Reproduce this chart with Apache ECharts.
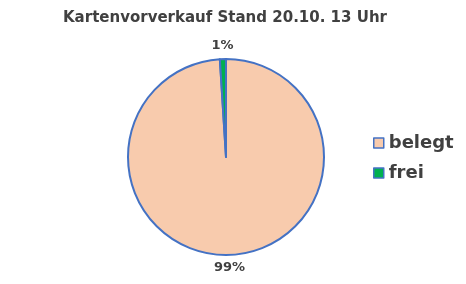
<!DOCTYPE html>
<html><head><meta charset="utf-8">
<script src="https://cdn.jsdelivr.net/npm/echarts@6/dist/echarts.min.js"></script>
<style>html,body{margin:0;padding:0;background:#fff}#c{width:466px;height:284px}</style>
</head><body><div id="c"></div>
<script>
const titleText = 'Kartenvorverkauf Stand 20.10. 13 Uhr';
const categories = ['belegt', 'frei'];
const values = [99, 1];
const colors = ['#F8CBAD', '#00B050'];

const chart = echarts.init(document.getElementById('c'), null, {renderer: 'canvas'});
chart.setOption({
  backgroundColor: '#ffffff',
  animation: false,
  title: {
    text: titleText, left: 58, top: 6,
    textStyle: {fontFamily: 'DejaVu Sans', fontWeight: 'bold', fontSize: 15, color: '#404040'}
  },
  legend: {
    orient: 'vertical', left: 368, top: 129, itemGap: 12,
    icon: 'rect', itemWidth: 10, itemHeight: 10, itemStyle: {borderColor: '#4472C4', borderWidth: 1.5},
    data: categories,
    textStyle: {fontFamily: 'DejaVu Sans', fontWeight: 'bold', fontSize: 18, color: '#404040'}
  },
  series: [{
    type: 'pie',
    center: [226, 157], radius: 98,
    startAngle: 90, clockwise: true,
    data: categories.map((c, i) => ({name: c, value: values[i], itemStyle: {color: colors[i]}})),
    itemStyle: {borderColor: '#4472C4', borderWidth: 2},
    label: {
      show: true, position: 'outside', formatter: '{d}%', distanceToLabelLine: 0,
      fontFamily: 'DejaVu Sans', fontWeight: 'bold', fontSize: 13, color: '#404040'
    },
    labelLine: {show: false, length: 13, length2: 0},
    labelLayout: function () { return {align: 'center'}; },
    emphasis: {disabled: true}
  }]
});
</script></body></html>
